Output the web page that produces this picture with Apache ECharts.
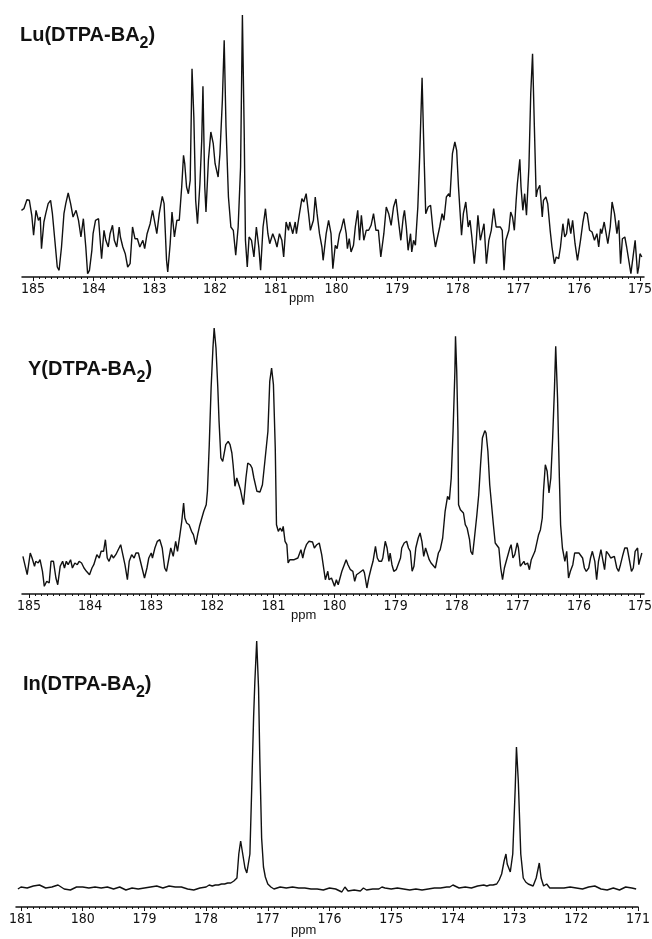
<!DOCTYPE html>
<html><head><meta charset="utf-8">
<script src="https://cdn.jsdelivr.net/npm/echarts@6/dist/echarts.min.js"></script>
<style>html,body{margin:0;padding:0;background:#fff}#c{width:652px;height:939px}</style>
</head><body><div id="c"></div>
<script>
// ---------- Lu(DTPA-BA2) ----------
const luPpm = [
185.19,185.15,185.10,185.06,185.02,184.99,184.95,184.91,184.88,184.86,
184.82,184.79,184.75,184.71,184.68,184.64,184.60,184.57,184.53,184.49,
184.46,184.42,184.38,184.34,184.29,184.25,184.21,184.17,184.13,184.10,
184.07,184.03,184.01,183.97,183.92,183.90,183.87,183.83,183.80,183.76,
183.73,183.69,183.66,183.62,183.58,183.56,183.52,183.48,183.44,183.40,
183.36,183.32,183.28,183.24,183.19,183.16,183.12,183.07,183.03,183.00,
182.96,182.92,182.87,182.84,182.80,182.78,182.74,182.71,182.67,182.63,
182.59,182.55,182.52,182.50,182.47,182.44,182.41,182.38,182.35,182.32,
182.29,182.25,182.22,182.20,182.17,182.15,182.11,182.07,182.03,182.00,
181.97,181.95,181.92,181.88,181.85,181.82,181.78,181.74,181.70,181.66,
181.62,181.58,181.55,181.52,181.50,181.47,181.44,181.40,181.36,181.32,
181.28,181.25,181.21,181.17,181.13,181.10,181.05,181.01,180.98,180.94,
180.90,180.87,180.83,180.79,180.77,180.72,180.68,180.66,180.61,180.57,
180.54,180.50,180.46,180.43,180.38,180.35,180.32,180.28,180.24,180.22,
180.17,180.13,180.09,180.06,180.02,179.99,179.95,179.92,179.88,179.84,
179.82,179.79,179.76,179.72,179.69,179.65,179.62,179.59,179.55,179.51,
179.47,179.43,179.39,179.35,179.31,179.27,179.22,179.18,179.14,179.10,
179.06,179.02,178.98,178.94,178.90,178.88,178.85,178.82,178.78,178.76,
178.73,178.70,178.66,178.63,178.59,178.56,178.53,178.49,178.45,178.41,
178.37,178.34,178.30,178.26,178.23,178.19,178.15,178.13,178.09,178.05,
178.02,177.99,177.94,177.91,177.87,177.83,177.80,177.77,177.73,177.70,
177.67,177.63,177.60,177.57,177.53,177.49,177.45,177.41,177.37,177.34,
177.30,177.27,177.24,177.21,177.16,177.13,177.10,177.07,177.04,177.02,
176.98,176.96,176.93,176.90,176.87,176.83,176.80,176.77,176.74,176.71,
176.69,176.65,176.61,176.59,176.55,176.52,176.48,176.45,176.41,176.38,
176.34,176.31,176.27,176.24,176.21,176.18,176.14,176.11,176.07,176.03,
175.98,175.94,175.91,175.87,175.83,175.79,175.75,175.71,175.68,175.65,
175.63,175.59,175.56,175.53,175.49,175.46,175.42,175.38,175.35,175.32,
175.29,175.25,175.22,175.19,175.15,175.12,175.08,175.04,175.02,175.00,
174.97];
const luInt = [
66.7,68.3,77.3,76.7,61.7,41.7,66.7,56.7,60,28.3,
55,63.3,73.3,76.7,63.3,36.7,10,6.7,30,63.3,
73.3,84,73.3,60,66.7,56.7,40,58.3,30,3.3,
6.7,26.7,43.3,56.7,58.3,60,18.3,46.7,36.7,30,
43.3,51.7,36.7,30,50,40,30,23.3,10,13.3,
50,38.3,38.3,30,36.7,28.3,43.3,53.3,66.7,56.7,
43.3,63.3,80.7,73.3,16.7,5,33.3,65,40,56.7,
56.7,90,121.7,113.3,90,83.3,96.7,208.3,160,76.7,
53.3,93.3,136.7,190.7,90,65,116.7,145,133.3,113.3,
111.7,100,123.3,176.7,236.7,150,80,50,46.7,21.7,
50,110,262,143.3,36.7,10,40,36.7,20,50,
30,6.7,50,68.3,43.3,33.3,43.3,36.7,30,43.3,
36.7,20,55,46.7,55,43.3,55,43.3,63.3,78.3,
75,83.3,63.3,46.7,56.7,80,63.3,43.3,30,16.7,
43.3,56.7,43.3,8.3,31.7,28.3,43.3,48.3,58.3,43.3,
28.3,38.3,25,31.7,50,66.7,36.7,61.7,36.7,46.7,
46.7,51.7,63.3,46.7,46.7,20,43.3,70,63.3,51.7,
70,78,56.7,36.7,60,66.7,50,26.7,43.3,25,
36.7,31.7,70,120,199.3,126.7,63.3,70,71.7,46.7,
30,31.7,50,63.3,56.7,80,83.3,80,123.3,135,
126.7,90,41.7,63.3,75,50,56.7,40,13.3,33.3,
61.7,36.7,36.7,53.3,13.3,36.7,46.7,68.3,50,50,
50,46.7,6.7,36.7,46.7,65,60,46.7,76.7,93.3,
117.7,90,66.7,83.3,61.7,110,183.3,223.3,150,80,
86.7,91.7,60,76.7,80,73.3,46.7,30,13.3,20,
18.3,30,53.3,40,43.3,58.3,43.3,56.7,33.3,16.7,
36.7,55,65,63.3,46.7,45,36.7,43.3,30,48.3,
43.3,55,56.7,33.3,50,75,63.3,43.3,56.7,13.3,
38.3,40,30,31.7,3.3,3.3,36.7,3.3,10,23.3,
20];

// ---------- Y(DTPA-BA2) ----------
const yPpm = [
185.10,185.07,185.03,184.98,184.95,184.91,184.89,184.85,184.82,184.78,
184.75,184.71,184.67,184.64,184.60,184.56,184.53,184.49,184.45,184.42,
184.39,184.36,184.32,184.29,184.25,184.21,184.18,184.14,184.10,184.06,
184.01,183.97,183.94,183.89,183.85,183.82,183.78,183.75,183.72,183.69,
183.65,183.62,183.58,183.54,183.50,183.47,183.43,183.39,183.36,183.32,
183.28,183.25,183.21,183.18,183.15,183.11,183.07,183.04,183.00,182.98,
182.94,182.90,182.86,182.82,182.78,182.75,182.71,182.68,182.64,182.60,
182.57,182.53,182.50,182.47,182.45,182.42,182.38,182.34,182.31,182.27,
182.24,182.21,182.18,182.14,182.10,182.08,182.05,182.02,181.99,181.97,
181.94,181.91,181.89,181.86,181.83,181.80,181.78,181.74,181.71,181.68,
181.66,181.63,181.60,181.57,181.54,181.49,181.45,181.42,181.38,181.35,
181.32,181.27,181.22,181.18,181.14,181.09,181.06,181.03,181.00,180.97,
180.95,180.92,180.89,180.86,180.84,180.81,180.78,180.76,180.73,180.70,
180.66,180.63,180.60,180.58,180.55,180.52,180.49,180.46,180.42,180.39,
180.36,180.33,180.29,180.25,180.21,180.17,
180.15,180.11,180.09,180.05,180.03,180.00,179.97,179.94,179.92,179.88,
179.84,179.81,179.78,179.74,179.70,179.67,179.64,179.60,179.57,179.53,
179.51,179.47,179.44,179.40,179.37,179.33,179.30,179.27,179.23,179.21,
179.17,179.14,179.11,179.09,179.06,179.03,178.99,178.96,178.92,178.90,
178.86,178.82,178.79,178.76,178.73,178.70,178.67,178.63,178.60,178.57,
178.54,178.51,178.49,178.45,178.42,178.39,178.35,178.32,178.30,178.27,
178.23,178.19,178.15,178.12,178.09,178.06,178.03,178.02,178.00,177.98,
177.97,177.94,177.91,177.89,177.86,177.83,177.79,177.77,177.74,177.71,
177.67,177.64,177.61,177.58,177.54,177.52,177.49,177.46,177.43,177.40,
177.37,177.34,177.31,177.28,177.25,177.22,177.19,177.16,177.13,177.11,
177.08,177.05,177.01,176.99,176.96,176.93,176.90,176.88,176.84,176.81,
176.78,176.75,176.72,176.70,176.66,176.63,176.60,176.58,176.55,176.52,
176.49,176.46,176.43,176.40,176.38,176.35,176.32,176.30,176.27,176.23,
176.20,176.17,176.14,176.10,176.07,176.04,176.00,175.97,175.94,175.91,
175.88,175.84,175.81,175.78,175.74,175.71,175.68,175.64,175.61,175.58,
175.55,175.51,175.48,175.45,175.42,175.38,175.35,175.32,175.28,175.25,
175.21,175.18,175.14,175.11,175.08,175.04,175.02,175.00,174.97];
const yInt = [
37.7,36,19.3,41,36,27.7,32.7,31,34.3,22.7,
7.7,12.7,11,32.7,32.7,16,9.3,27.7,32.7,26,
32.7,29.3,34.3,26,31,29.3,32.7,31,26,22.7,
19.3,26,29.3,39.3,36,42.7,42.7,54.3,36,32.7,
39.3,36,39.3,44.3,49.3,47.7,29.3,14.3,32.7,39.3,
36,41,41,41,26,16,26,36,41,36,
46,52.7,54.3,46,26,22.7,36,46,37.7,52.7,
42.7,59.3,72.7,91,76,71,69.3,62.7,59.3,49.3,
59.3,67.7,74.3,82.7,89.3,102.7,149.3,206,246,266,
246,206,172.7,136,132.7,132.7,149.3,152.7,149.3,141,
129.3,107.7,116,114.3,104.3,89.3,116,131,129.3,126,
116,102.7,102,109.3,132.7,162.7,212.7,226,209.3,146,
69.3,62.7,66,62.7,67.7,52.7,49.3,31,34.3,32.7,
34.3,32.7,36,39.3,44.3,36,44.3,49.3,52.7,51,
52,46,49.3,51,39.3,22.7,
14.3,22.7,14.3,16,12.7,7.7,14.3,9.3,7.7,22.7,
29.3,34.3,29.3,24.3,22.7,12.7,19.3,21,22.7,24.3,
21,6,16,26,32.7,47.7,36,32.7,32.7,36,
52.7,46,32.7,41,29.3,22.7,24.3,29.3,36,46,
51,52.7,46,42.7,22.7,27.7,46,56,61,52.7,
37.7,46,46,34.3,31,32.7,26,24.3,41,44.3,
56,82.7,97.7,94.3,116,162.7,222.7,257.7,222.7,162.7,
89.3,84.3,86,81,69.3,66,54.3,42.7,39.3,56,
79.3,99.3,129.3,156,163.3,161,142.7,109.3,89.3,69.3,
51,52.7,46,26,14.3,26,32.7,31,46,49.3,
36,39.3,51,46,27.7,26,32.7,29.3,31,24.3,
34.3,36,42.7,44.3,59.3,64.3,76,102.7,129.3,122.7,
101,116,156,206,247.7,196,116,69.3,46,32.7,
42.7,16,22.7,29.3,41,39.3,41,42.7,36,26,
22.7,26,36,42.7,32.7,14.3,32.7,44.3,42.7,24.3,
42.7,39.3,36,36,37.7,26,22.7,29.3,39.3,46,
46,36,22.7,26,42.7,46,29.3,34.3,41];

// ---------- In(DTPA-BA2) ----------
const inPpm = [
181.05,181.0,180.9,180.8,180.7,180.6,180.5,180.4,180.3,180.2,
180.1,180.0,179.9,179.8,179.7,179.6,179.5,179.4,179.3,179.2,
179.1,179.0,178.9,178.8,178.7,178.6,178.5,178.4,178.3,178.2,
178.1,178.0,177.95,177.9,177.85,177.8,177.75,177.7,177.65,177.6,
177.55,177.5,177.47,177.44,177.41,177.37,177.34,177.32,177.29,177.26,
177.23,177.21,177.18,177.15,177.13,177.10,177.07,177.04,177.0,176.95,
176.9,176.8,176.7,176.6,176.5,176.4,176.3,176.2,176.1,176.0,
175.9,175.8,175.75,175.7,175.6,175.5,175.45,175.4,175.3,175.2,
175.15,175.1,175.0,174.9,174.8,174.7,174.6,174.5,174.4,174.3,
174.2,174.1,174.05,174.0,173.9,173.8,173.7,173.6,173.5,173.45,
173.4,173.35,173.29,173.25,173.21,173.17,173.14,173.12,173.07,173.03,
172.99,172.97,172.94,172.90,172.86,172.82,172.78,172.74,172.70,172.65,
172.60,172.57,172.53,172.48,172.43,172.4,172.3,172.2,172.1,172.0,
171.9,171.8,171.7,171.6,171.5,171.4,171.3,171.2,171.1,171.03];
const inInt = [
18,20,19,21,22,19,20,22,18,17,
20,20,19,20,19,20,18,20,17,19,
18,19,20,21,19,21,20,20,18,17,
19,20,22,21,22,22,23,23,24,24,
26,29,53,66,65,39,34,35,53,120,
190,225,266,219,150,69,40,30,23,20,
18,20,19,20,19,19,18,18,17,19,
18,15,20,16,17,16,19,17,18,18,
20,19,18,19,18,17,18,17,18,19,
19,20,20,22,19,20,19,21,22,21,
22,22,23,27,33,46,53,43,35,53,
119,160,126,53,29,25,23,22,21,29,
44,29,21,23,19,20,19,19,20,19,
18,20,21,18,17,19,17,20,19,18];

const ticksA = [175,176,177,178,179,180,181,182,183,184,185];
const ticksB = [171,172,173,174,175,176,177,178,179,180,181];
const titles = ['Lu(DTPA-BA', 'Y(DTPA-BA', 'In(DTPA-BA'];

function minorTicks(lo, hi) {
  const out = [];
  for (let k = Math.round(lo * 10); k <= Math.round(hi * 10); k++) out.push(k / 10);
  return out;
}
const LABEL_FONT = "'Liberation Sans Narrow','Arial Narrow','DejaVu Sans Condensed',sans-serif";
const TITLE_FONT = "'Liberation Sans',Arial,Helvetica,sans-serif";

function majorAxis(g, min, max, ticks) {
  return {
    type: 'value', gridIndex: g, inverse: true, min: min, max: max, position: 'bottom',
    axisLine: { show: true, onZero: false, lineStyle: { color: '#111', width: 1.5 } },
    axisTick: { show: true, customValues: ticks, length: 4, lineStyle: { color: '#111', width: 1 } },
    axisLabel: { show: true, customValues: ticks, margin: 5, color: '#111', fontSize: 14,
      hideOverlap: false, fontFamily: LABEL_FONT, formatter: v => String(Math.round(v)) },
    splitLine: { show: false }
  };
}
function minorAxis(g, min, max, ticks) {
  return {
    type: 'value', gridIndex: g, inverse: true, min: min, max: max, position: 'bottom',
    axisLine: { show: false },
    axisTick: { show: true, customValues: ticks, length: 2, lineStyle: { color: '#111', width: 1 } },
    axisLabel: { show: false },
    splitLine: { show: false }
  };
}
function pairs(xs, ys) { return xs.map((x, i) => [x, ys[i]]); }

const richStyle = {
  a: { fontFamily: TITLE_FONT, fontWeight: 'bold', fontSize: 20, verticalAlign: 'top', color: '#111' },
  s: { fontFamily: TITLE_FONT, fontWeight: 'bold', fontSize: 16, verticalAlign: 'top', padding: [11, 0, 0, 0], color: '#111' }
};
function mkTitle(t, left, top) {
  return { text: '{a|' + t + '}{s|2}{a|)}', left: left, top: top, padding: 0,
    textStyle: { rich: richStyle } };
}

const panels = [
  { min: 174.934, max: 185.181, ticks: ticksA, left: 22, top: 7 },
  { min: 174.935, max: 185.115, ticks: ticksA, left: 22, top: 324 },
  { min: 171, max: 181.081, ticks: ticksB, left: 16, top: 637 }
];

const option = {
  animation: false,
  backgroundColor: '#fff',
  title: [mkTitle(titles[0], 20, 25), mkTitle(titles[1], 28, 359), mkTitle(titles[2], 23, 674)],
  grid: panels.map(p => ({ left: p.left, top: p.top, width: 622, height: 270,
    containLabel: false, outerBoundsMode: 'none' })),
  xAxis: [],
  yAxis: panels.map((p, i) => ({ type: 'value', gridIndex: i, min: 0, max: 270, show: false })),
  series: [],
  graphic: [
    { type: 'text', left: 289, top: 292, style: { text: 'ppm', font: "13px 'Liberation Sans',Arial,sans-serif", fill: '#111' } },
    { type: 'text', left: 291, top: 609, style: { text: 'ppm', font: "13px 'Liberation Sans',Arial,sans-serif", fill: '#111' } },
    { type: 'text', left: 291, top: 924, style: { text: 'ppm', font: "13px 'Liberation Sans',Arial,sans-serif", fill: '#111' } }
  ]
};
panels.forEach((p, i) => {
  option.xAxis.push(majorAxis(i, p.min, p.max, p.ticks));
  option.xAxis.push(minorAxis(i, p.min, p.max, minorTicks(p.ticks[0], p.ticks[p.ticks.length - 1])));
});
const data = [pairs(luPpm, luInt), pairs(yPpm, yInt), pairs(inPpm, inInt)];
data.forEach((d, i) => {
  option.series.push({ type: 'line', xAxisIndex: i * 2, yAxisIndex: i, data: d, showSymbol: false,
    lineStyle: { color: '#111', width: 1.4 }, silent: true });
});

const chart = echarts.init(document.getElementById('c'), null, { renderer: 'canvas' });
chart.setOption(option);
</script>
</body></html>
